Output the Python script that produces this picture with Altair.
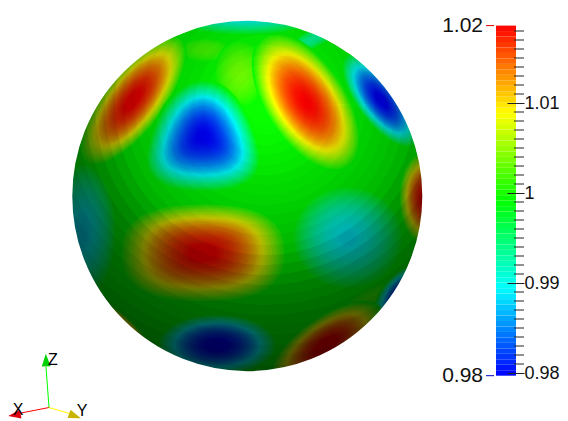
import altair as alt
import pandas as pd

# ---- colour map and colour-bar range
VMIN, VMAX = 0.9797, 1.0186
stops = [0.9797, 0.98943, 0.99915, 1.00888, 1.0186]
stop_colors = ["#0000ff", "#00ffff", "#00ff00", "#ffff00", "#ff0000"]
major_ticks = [0.98, 0.99, 1.0, 1.01]
minor_ticks = [0.981, 0.982, 0.983, 0.984, 0.985, 0.986, 0.987, 0.988, 0.989,
               0.991, 0.992, 0.993, 0.994, 0.995, 0.996, 0.997, 0.998, 0.999,
               1.001, 1.002, 1.003, 1.004, 1.005, 1.006, 1.007, 1.008, 1.009,
               1.011, 1.012, 1.013, 1.014, 1.015, 1.016, 1.017, 1.018]
end_values = [0.9797, 1.0186]
end_labels = ["0.98", "1.02"]
end_colors = ["#0000d0", "#e00000"]
N_BANDS = 64

# ---- sphere outline (pixels)
sphere_x, sphere_y, sphere_r = 247.3, 196, 175
sphere_value = 0.9995

# ---- features on the sphere: centre, semi-axes, tilt, extreme value, outline
blob_name = ["top", "rimT", "yg2", "yg1", "rimL", "left", "cyan", "olive", "rimB",
             "redA", "redB", "blueC", "blueD", "redE", "redF", "blueI", "redJ", "redK"]
blob_x = [245, 318, 205, 240, 88, 82, 348, 370, 398, 133, 306, 203, 381, 203, 425, 217, 326, 123]
blob_y = [8, 36, 50, 74, 108, 232, 238, 302, 293, 100, 102, 136, 100, 253, 198, 345, 345, 331]
blob_rx = [95, 10, 26, 26, 12, 36, 58, 14, 16, 31, 40, 58, 24, 84, 26, 62, 28, 13]
blob_ry = [28, 45, 12, 34, 60, 72, 54, 35, 34, 79, 78, 57, 58, 50, 47, 32, 66, 44]
blob_tilt = [0, 62, 0, 0, 37, 0, 0, 60, 38, 37, 327, 0, 323, 0, 0, 0, 55, 315]
blob_peak = [0.9875, 0.993, 1.002, 1.0035, 0.994, 0.9885, 0.989, 1.002, 0.982,
             1.0186, 1.0186, 0.9797, 0.9797, 1.0186, 1.0186, 0.9797, 1.0186, 1.0186]
blob_form = ["e", "e", "e", "e", "e", "e", "e", "e", "e",
             "e", "e", "t", "e", "s", "e", "e", "e", "e"]

# nested outline sizes and how far each goes from the surrounding value to the extreme
level_size = [1.0, 0.97, 0.94, 0.91, 0.88, 0.85, 0.82, 0.79, 0.76, 0.73, 0.7, 0.67, 0.64,
              0.61, 0.58, 0.55, 0.52, 0.49, 0.46, 0.43, 0.4, 0.37, 0.34, 0.31, 0.28, 0.25,
              0.22, 0.19, 0.16, 0.13, 0.1, 0.07, 0.04]
level_weight = [0.0, 0.059, 0.116, 0.172, 0.226, 0.278, 0.328, 0.376, 0.422, 0.467, 0.51, 0.551,
                0.59, 0.628, 0.664, 0.698, 0.73, 0.76, 0.788, 0.815, 0.84, 0.863, 0.884, 0.904,
                0.922, 0.938, 0.952, 0.964, 0.974, 0.983, 0.99, 0.995, 0.998]

# ---- lighting: added darkness beyond each distance from the bright spot
light_x, light_y = 265, 105
shade_radius = [20, 30, 40, 50, 60, 70, 80, 90, 100, 110, 120, 130, 140, 150, 160, 170,
                180, 190, 200, 210, 220, 230, 240, 250, 260, 270, 280, 290]
shade_step = [0.01, 0.01, 0.02, 0.02, 0.02, 0.022, 0.017, 0.017, 0.023, 0.024, 0.024, 0.03,
              0.045, 0.08, 0.075, 0.085, 0.075, 0.06, 0.06, 0.045, 0.045, 0.045, 0.045,
              0.045, 0.048, 0.075, 0.054, 0.057]

# ---- orientation triad
axis_label = ["X", "Y", "Z"]
axis_color = ["#ff0000", "#ffff00", "#00ff00"]
cone_color = ["#e00010", "#c8b400", "#00d000"]
axis_x0, axis_y0 = 49, 407.5
axis_x1 = [16, 71, 46]
axis_y1 = [414, 414, 367]
cone_x = [14.5, 75, 46]
cone_y = [415, 416, 360]
cone_angle = [261, 110, 358]
label_x = [18, 82, 53]
label_y = [410, 411, 360]

FORMS = {
    "e": [(0, -1), (.5523, -1), (1, -.5523), (1, 0), (1, .5523), (.5523, 1), (0, 1),
          (-.5523, 1), (-1, .5523), (-1, 0), (-1, -.5523), (-.5523, -1), (0, -1)],
    "t": [(0, -1), (.6, -1), (.95, -.1), (1.0, .35), (1.05, .9), (.5, 1), (0, 1),
          (-.5, 1), (-1.05, .9), (-1.0, .35), (-.95, -.1), (-.6, -1), (0, -1)],
    "s": [(0, -1), (.7, -1), (1, -.7), (1, 0), (1, .7), (.7, 1), (0, 1),
          (-.7, 1), (-1, .7), (-1, 0), (-1, -.7), (-.7, -1), (0, -1)],
}


def outline(form, a, b):
    p = [(round(x * a, 4), round(y * b, 4)) for x, y in FORMS[form]]
    s = f"M{p[0][0]},{p[0][1]}"
    for i in range(1, 13, 3):
        s += f"C{p[i][0]},{p[i][1]} {p[i+1][0]},{p[i+1][1]} {p[i+2][0]},{p[i+2][1]}"
    return s + "Z"


rows = [dict(x=sphere_x, y=sphere_y, value=sphere_value, seq=0,
             path=outline("e", 1, 1), size=(2 * sphere_r) ** 2, tilt=0)]
seq = 1
for i in range(len(blob_name)):
    big = max(blob_rx[i], blob_ry[i])
    path = outline(blob_form[i], blob_rx[i] / big, blob_ry[i] / big)
    for f, w in zip(level_size, level_weight):
        rows.append(dict(x=blob_x[i], y=blob_y[i],
                         value=sphere_value + (blob_peak[i] - sphere_value) * w,
                         seq=seq, path=path, size=(2 * big * f) ** 2, tilt=blob_tilt[i]))
        seq += 1
field = pd.DataFrame(rows)

PANEL_W, PANEL_H = 440, 413
X = alt.X("x:Q", axis=None, scale=alt.Scale(domain=[8, 448]))
Y = alt.Y("y:Q", axis=None, scale=alt.Scale(domain=[8, 421], reverse=True))
color_scale = alt.Scale(domain=stops, range=stop_colors, interpolate="rgb")

sphere = alt.Chart(field).mark_point(filled=True, opacity=1, strokeWidth=0, clip=True).encode(
    x=X, y=Y,
    color=alt.Color("value:Q", scale=color_scale, legend=None),
    shape=alt.Shape("path:N", scale=None),
    size=alt.Size("size:Q", scale=None),
    angle=alt.Angle("tilt:Q", scale=None),
    order=alt.Order("seq:Q"),
)

SHADE_W = 800
shade_df = pd.DataFrame({"x": light_x, "y": light_y,
                         "size": [(2 * (r + SHADE_W / 2)) ** 2 for r in shade_radius],
                         "o": shade_step})
shade = alt.Chart(shade_df).mark_point(filled=False, color="black", strokeWidth=SHADE_W, clip=True).encode(
    x=X, y=Y, size=alt.Size("size:Q", scale=None), opacity=alt.Opacity("o:Q", scale=None))

mask_df = pd.DataFrame({"x": [sphere_x], "y": [sphere_y], "size": [(2 * (sphere_r + 250)) ** 2]})
mask = alt.Chart(mask_df).mark_point(filled=False, color="white", opacity=1, strokeWidth=500, clip=True).encode(
    x=X, y=Y, size=alt.Size("size:Q", scale=None))

tri = pd.DataFrame({"x": axis_x0, "y": axis_y0, "x2": axis_x1, "y2": axis_y1,
                    "c": axis_color, "cc": cone_color, "cx": cone_x, "cy": cone_y,
                    "a": cone_angle, "lx": label_x, "ly": label_y, "t": axis_label})
tri_lines = alt.Chart(tri).mark_rule(strokeWidth=1).encode(
    x=X, y=Y, x2="x2:Q", y2="y2:Q", stroke=alt.Stroke("c:N", scale=None))
tri_cones = alt.Chart(tri).mark_point(
    filled=True, opacity=1, size=160, strokeWidth=0, shape="M0,-1L-0.7,1L0.7,1Z", clip=True
).encode(
    x=alt.X("cx:Q", axis=None, scale=alt.Scale(domain=[8, 448])),
    y=alt.Y("cy:Q", axis=None, scale=alt.Scale(domain=[8, 421], reverse=True)),
    fill=alt.Fill("cc:N", scale=None), angle=alt.Angle("a:Q", scale=None))
tri_text = alt.Chart(tri).mark_text(font="Liberation Sans", fontSize=16, color="black").encode(
    x=alt.X("lx:Q", axis=None, scale=alt.Scale(domain=[8, 448])),
    y=alt.Y("ly:Q", axis=None, scale=alt.Scale(domain=[8, 421], reverse=True)),
    text="t:N")

left = alt.layer(sphere, shade, mask, tri_lines, tri_cones, tri_text).properties(
    width=PANEL_W, height=PANEL_H)

# ---- colour bar with its own value axis
BAR_W = 59
y_range = [367.7, 17.6]
step = (VMAX - VMIN) / N_BANDS
bands = pd.DataFrame({"lo": [VMIN + i * step for i in range(N_BANDS)],
                      "hi": [VMIN + (i + 1) * step for i in range(N_BANDS)],
                      "mid": [VMIN + (i + 0.5) * step for i in range(N_BANDS)]})
VY = alt.Scale(domain=[VMIN, VMAX], range=y_range)
value_axis = alt.Axis(
    orient="right", values=major_ticks, format=".3~g", title=None, grid=False, domain=False,
    tickSize=17, tickColor="#222222", tickWidth=1, labelPadding=0,
    labelFont="Liberation Sans", labelFontSize=18, labelColor="#111111", zindex=1,
    labelOverlap=False, labelFlush=False)

bar = alt.Chart(bands).mark_rect(stroke=None).encode(
    y=alt.Y("lo:Q", scale=VY, axis=value_axis),
    y2="hi:Q",
    x=alt.value(48), x2=alt.value(68),
    color=alt.Color("mid:Q", scale=color_scale, legend=None),
)
minor = alt.Chart(pd.DataFrame({"v": minor_ticks})).mark_rule(color="#222222", strokeWidth=1).encode(
    y=alt.Y("v:Q", scale=VY, axis=value_axis), x=alt.value(66), x2=alt.value(76))
ends = pd.DataFrame({"v": end_values, "t": end_labels, "c": end_colors})
end_rules = alt.Chart(ends).mark_rule(strokeWidth=1).encode(
    y=alt.Y("v:Q", scale=VY, axis=value_axis), x=alt.value(38), x2=alt.value(46),
    stroke=alt.Stroke("c:N", scale=None))
end_text = alt.Chart(ends).mark_text(font="Liberation Sans", fontSize=21, align="right",
                                     baseline="middle", color="#111111").encode(
    y=alt.Y("v:Q", scale=VY, axis=value_axis), x=alt.value(35), text="t:N")

right = alt.layer(bar, minor, end_rules, end_text).properties(width=BAR_W, height=PANEL_H)

chart = alt.hconcat(left, right, spacing=0, bounds="flush", padding=0).configure_view(stroke=None)
chart.save("out.html", embed_options={"renderer": "svg", "actions": False})
